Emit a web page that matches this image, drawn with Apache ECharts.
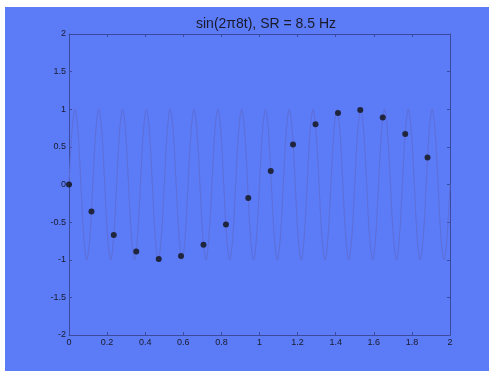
<!DOCTYPE html>
<html><head><meta charset="utf-8">
<script src="https://cdn.jsdelivr.net/npm/echarts@6/dist/echarts.min.js"></script>
<style>
html,body{margin:0;padding:0;background:#ffffff;}
#c{position:absolute;left:5px;top:7px;width:484px;height:364px;}
</style></head><body>
<div id="c"></div>
<script>
// Sample points (t in s, value)
var sampleT = [0, 0.118, 0.235, 0.353, 0.471, 0.588, 0.706, 0.824, 0.941, 1.059, 1.176, 1.294, 1.412, 1.529, 1.647, 1.765, 1.882];
var sampleY = [0, -0.36, -0.67, -0.89, -0.99, -0.95, -0.80, -0.53, -0.18, 0.18, 0.53, 0.80, 0.95, 0.99, 0.89, 0.67, 0.36];
// Continuous curve read at every 1/64 s (16 cycles over 0..2 s)
var curveStep = 1 / 64;
var curveY = [
 0, 0.71, 1, 0.71, 0, -0.71, -1, -0.71,
 0, 0.71, 1, 0.71, 0, -0.71, -1, -0.71,
 0, 0.71, 1, 0.71, 0, -0.71, -1, -0.71,
 0, 0.71, 1, 0.71, 0, -0.71, -1, -0.71,
 0, 0.71, 1, 0.71, 0, -0.71, -1, -0.71,
 0, 0.71, 1, 0.71, 0, -0.71, -1, -0.71,
 0, 0.71, 1, 0.71, 0, -0.71, -1, -0.71,
 0, 0.71, 1, 0.71, 0, -0.71, -1, -0.71,
 0, 0.71, 1, 0.71, 0, -0.71, -1, -0.71,
 0, 0.71, 1, 0.71, 0, -0.71, -1, -0.71,
 0, 0.71, 1, 0.71, 0, -0.71, -1, -0.71,
 0, 0.71, 1, 0.71, 0, -0.71, -1, -0.71,
 0, 0.71, 1, 0.71, 0, -0.71, -1, -0.71,
 0, 0.71, 1, 0.71, 0, -0.71, -1, -0.71,
 0, 0.71, 1, 0.71, 0, -0.71, -1, -0.71,
 0, 0.71, 1, 0.71, 0, -0.71, -1, -0.71,
 0
];
var titleText = 'sin(2\u03c08t), SR = 8.5 Hz';

var curveData = curveY.map(function (v, i) { return [i * curveStep, v]; });
var sampleData = sampleT.map(function (t, i) { return [t, sampleY[i]]; });

var axisCol = '#3b4a9e';
var font = 'Liberation Sans, Arial, sans-serif';
var chart = echarts.init(document.getElementById('c'));
function xa(pos, show) {
  return {type: 'value', position: pos, min: 0, max: 2, interval: 0.2,
    axisLine: {show: true, onZero: false, lineStyle: {color: axisCol, width: 1}},
    axisTick: {show: true, inside: true, length: 3, lineStyle: {color: axisCol}},
    axisLabel: {show: show, color: '#1a1a2a', fontSize: 9, fontFamily: font, margin: 3},
    splitLine: {show: false}};
}
function ya(pos, show) {
  return {type: 'value', position: pos, min: -2, max: 2, interval: 0.5,
    axisLine: {show: true, onZero: false, lineStyle: {color: axisCol, width: 1}},
    axisTick: {show: true, inside: true, length: 3, lineStyle: {color: axisCol}},
    axisLabel: {show: show, color: '#1a1a2a', fontSize: 9, fontFamily: font, margin: 3},
    splitLine: {show: false}};
}
chart.setOption({
  backgroundColor: '#5b7bf7',
  animation: false,
  title: {text: titleText, left: 256, top: 5, textAlign: 'center',
    textStyle: {fontSize: 14, fontWeight: 'normal', color: '#1a1a2a', fontFamily: font}},
  grid: {left: 64, right: 39, top: 27, bottom: 36},
  xAxis: [xa('bottom', true), xa('top', false)],
  yAxis: [ya('left', true), ya('right', false)],
  series: [
    {type: 'line', data: curveData, showSymbol: false, smooth: 0.35,
     lineStyle: {color: '#5e6ed6', width: 1}, z: 1},
    {type: 'scatter', data: sampleData, symbolSize: 6,
     itemStyle: {color: '#111111'}, z: 3}
  ]
});
</script>
</body></html>
